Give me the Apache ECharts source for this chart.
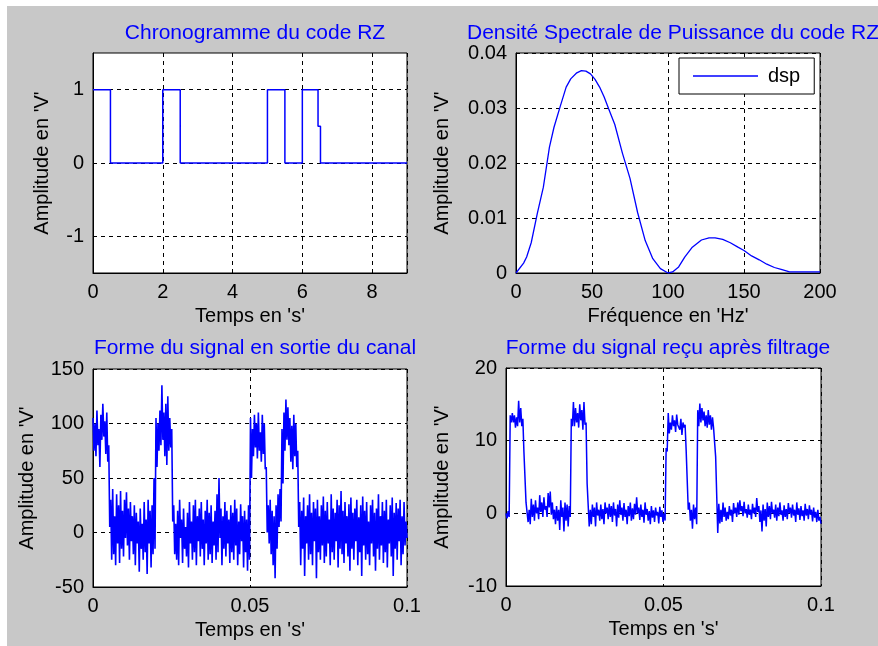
<!DOCTYPE html>
<html>
<head>
<meta charset="utf-8">
<title>Code RZ</title>
<script src="https://cdn.jsdelivr.net/npm/echarts@6/dist/echarts.min.js"></script>
<style>
  html, body { margin: 0; padding: 0; }
  #chart { width: 878px; height: 646px; }
</style>
</head>
<body>
<div id="chart"></div>
<script>
// chronogramme du code RZ (temps en s, niveau en V)
const rzTime = [0, 0.5, 0.5, 2, 2, 2.5, 2.5, 5, 5, 5.5, 5.5, 6, 6, 6.45, 6.45, 6.52, 6.52, 9];
const rzLevel = [1, 1, 0, 0, 1, 1, 0, 0, 1, 1, 0, 0, 1, 1, 0.5, 0.5, 0, 0];
const rzTicks = [-1, 0, 1];

// densite spectrale de puissance
const freq = [0, 5, 7, 10, 14, 18, 22, 25, 29, 33, 36, 40, 43, 46, 49, 52, 55, 58, 61, 65, 70, 75, 80, 85, 90, 95, 100,
  103, 107, 111, 116, 122, 127, 131, 136, 141, 146, 150, 155, 160, 165, 170, 175, 180, 190, 200];
const dsp = [0, 0.0018, 0.0029, 0.0055, 0.0108, 0.0156, 0.0229, 0.0265, 0.0302, 0.0338, 0.0353, 0.0364, 0.0368, 0.0367, 0.0362,
  0.0352, 0.0338, 0.032, 0.0298, 0.027, 0.0218, 0.0172, 0.011, 0.0059, 0.0026, 0.0008, 0,
  0.0002, 0.0011, 0.0029, 0.0047, 0.006, 0.0064, 0.0064, 0.0061, 0.0055, 0.0047, 0.0041, 0.0031, 0.0024, 0.0016, 0.001, 0.0006, 0.0002, 0.0002, 0.0002];

// signal en sortie du canal (echantillons)
const canalSortie = [
  105, 75, 100, 70, 112, 80, 95, 60, 108, 85, 118, 88, 102, 72, 110, 65, 80, 5,
  30, -25, 40, -20, 15, -30, 35, -10, 25, -28, 38, -15, 20, -22, 30, -5, 37, -12, 22, -25,
  28, -8, 15, -20, 25, -30, 18, -10, 10, -36, 22, -15, 8, -25, 28, -18, 12, -38, 30, -10,
  20, -32, 25, -20, 50, -15,
  105, 60, 100, 75, 112, 80, 135, 85, 110, 70, 118, 62, 125, 75, 105, 78, 95, 10,
  25, -20, 8, -25, 20, -30, 30, -5, 12, -28, 22, -15, 5, -22, 18, -32, 28, -10, 10, -25,
  25, -18, 30, -30, 15, -8, 22, -22, 28, -15, 12, -30, 20, -10, 30, -25, 18, -20, 25, -28,
  10, -12, 20, -25, 35, -18, 50, -5, 22, -30, 15, -15, 28, -22, 20, -10, 12, -28, 25, -18,
  18, -25, 30, -12, 22, -30, 10, -20, 26, -8, 15, -32, 20, -18, 12, -35, 25, -25,
  105, 50, 95, 70, 108, 78, 100, 68, 110, 75, 92, 65, 108, 72, 100, 58, 60, 0,
  25, -10, 30, -20, 20, -30, 15, -42, 25, -15, 35, 5, 40, 10,
  95, 45, 110, 75, 122, 85, 115, 80, 105, 65, 98, 58, 108, 70, 100, 60, 75, 5,
  28, -30, 20, -15, 32, -40, 15, -10, 25, -25, 35, -20, 18, -30, 28, -8, 22, -42, 30, -18,
  15, -25, 25, -12, 33, -28, 20, -22, 28, -10, 12, -30, 35, -18, 22, -25, 18, -8, 30, -32,
  25, -15, 38, -20, 20, -28, 28, -10, 15, -22, 26, -35, 32, -15, 18, -25, 22, -8, 30, -30,
  14, -18, 25, -40, 33, -12, 20, -25, 28, -20, 10, -30, 25, -10, 30, -22, 18, -35, 22, -15,
  35, -25, 15, -12, 28, -28, 20, -18, 30, -32, 12, -10, 25, -22, 32, -40, 18, -15, 27, -25,
  22, -8, 30, -30, 15, -20, 28, -12, 10, -5
];

// signal recu apres filtrage
const signalFiltre = [
  0, -0.7, 0.3, -0.5, 13.5, 12.5, 13.8, 12.5, 13.5, 11.8, 13.2, 12, 15.5, 12.5, 14.5, 12, 13, 8.5, 8.7, 1.5,
  1.5, -1.2, 0.5, -1.5, 2, -0.5, 1.2, -1, 1.8, 0, 0.8, -0.8, 2.5, 0.2, 1.5, -0.5, 2.2, 0.5, 1, -0.5,
  2.8, 0.8, 3, -0.2, 1.5, -0.8, 0.5, -1.5, 1, -1, 0.5, -2.3, 1.8, -0.5, 0.8, -2.5, 1.5, -1, 1.2, -1.8,
  1, -0.5, 13, 12, 15.3, 12, 14.5, 12.5, 13.8, 11.8, 15, 12.8, 14.2, 11.5, 15.3, 12.2, 12.5, 4.1, 4, -1.8,
  0.5, -1.5, 1.2, -0.5, 0.8, -1.8, 1.5, -0.3, 0.5, -1, 1.2, -0.8, 0.6, -1.5, 1.5, 0, 0.8, -0.8, 1.3, -0.5,
  1, -1.2, 1.5, -0.3, 0.6, -1.8, 1.2, -0.6, 1.8, -0.2, 0.8, -1, 1.4, -0.5, 0.5, -1.5, 1, -0.4, 1.5, -1,
  0.7, -0.8, 1.3, -0.2, 2.2, 0, 0.8, -0.9, 1.2, -0.5, 0.5, -1.3, 1.5, -0.2, 0.6, -1, 0.3, -1.5, 1, -0.6,
  0.4, -1.2, 0.8, -0.3, 0.2, -1.4, 0.9, -0.5, 0.4, -1.2, 0, -1, 9, 8.5, 13.8, 11, 12.5, 11.5, 13.5, 12,
  12.8, 11.2, 13.6, 12.2, 12.2, 11.5, 13, 10.8, 12.5, 11.8, 12.2, 8.7, 8.5, 0.5, 1.5, -1, 0.5, -2.1, 1.2, -0.8,
  0.8, -1.5, 14.2, 12, 15.1, 12.5, 14.5, 12.8, 14, 12, 13.5, 11.8, 14.2, 12.2, 13.5, 11.5, 13.2, 11.8, 12, 7.8,
  7.8, -2.7, 1.3, -1.4, 0.5, -1.2, 1.5, -0.5, 0.8, -1, 0.2, -0.8, 1, -0.3, 0.5, -1.2, 1.4, 0, 0.8, -0.5,
  1.5, -0.2, 1.8, 0.3, 1, -0.4, 1.6, 0, 0.6, -0.6, 1.2, -0.2, 0.5, -0.8, 1.3, 0, 0.8, -0.5, 2.1, 0.2,
  1, -1.2, 0.4, -2.5, 1.2, -1, 0.6, -1.8, 1.5, -0.5, 1, -0.8, 1.6, 0, 0.5, -0.6, 1.2, -1, 0.8, -0.4,
  1.5, -0.2, 0.4, -1, 1.1, -0.5, 0.6, -0.8, 1.4, 0, 0.8, -0.6, 1.2, -0.3, 0.5, -1.2, 1.5, -0.2, 0.7, -0.9,
  1, -0.4, 0.4, -1, 1.3, -0.3, 0.6, -0.8, 1.1, -0.2, 0.5, -1.1, 0.8, -0.6, 0.2, -1.2, 0.5, -1, -0.5, -1.4
];

const duree = 0.1;
const blue = '#0000ff';
const font = "'Liberation Sans', Arial, sans-serif";

const toPoints = (xs, ys) => xs.map((x, i) => [x, ys[i]]);
const sampled = (values) => {
  const dt = duree / (values.length - 1);
  return values.map((v, i) => [i * dt, v]);
};

const chart = echarts.init(document.getElementById('chart'), null, {renderer: 'canvas'});

const grids = [
  {left: 93, top: 53, width: 314, height: 220},
  {left: 516, top: 53, width: 304, height: 220},
  {left: 93, top: 369, width: 314, height: 218},
  {left: 506, top: 368, width: 315, height: 218}
];

const gridLine = {show: true, lineStyle: {color: '#000', type: [4, 4], width: 1}};
const labelStyle = {color: '#000', fontSize: 20, fontFamily: font};
const nameStyle = {color: '#000', fontSize: 20, fontFamily: font};

const xAxis = (gridIndex, min, max, interval, name, gap) => ({
  type: 'value', gridIndex, min, max, interval,
  name, nameLocation: 'middle', nameGap: gap, nameTextStyle: nameStyle,
  axisLine: {show: true, onZero: false, lineStyle: {color: '#000'}},
  axisTick: {show: false},
  axisLabel: Object.assign({margin: 9, showMaxLabel: max % interval === 0}, labelStyle),
  splitLine: gridLine
});
const yAxis = (gridIndex, min, max, interval, gap) => ({
  type: 'value', gridIndex, min, max, interval,
  name: "Amplitude en 'V'", nameLocation: 'middle', nameGap: gap, nameTextStyle: nameStyle,
  axisLine: {show: true, onZero: false, lineStyle: {color: '#000'}},
  axisTick: {show: false},
  axisLabel: Object.assign({margin: 9}, labelStyle),
  splitLine: gridLine
});

const rzY = yAxis(0, -1.5, 1.5, undefined, 41);
rzY.axisTick = {show: false, customValues: rzTicks};
rzY.axisLabel.customValues = rzTicks;

const titleAt = (text, x, y) => ({
  text, left: x, top: y, textAlign: 'center',
  textStyle: {color: blue, fontSize: 21, fontWeight: 'normal', fontFamily: font}
});

const option = {
  animation: false,
  backgroundColor: '#c8c8c8',
  graphic: [
    {type: 'rect', shape: {x: 0, y: 0, width: 878, height: 6}, style: {fill: '#fff'}},
    {type: 'rect', shape: {x: 0, y: 0, width: 7, height: 646}, style: {fill: '#fff'}}
  ],
  title: [
    titleAt('Chronogramme du code RZ', 250, 18),
    titleAt('Densité Spectrale de Puissance du code RZ', 668, 18),
    titleAt('Forme du signal en sortie du canal', 250, 333),
    titleAt('Forme du signal reçu après filtrage', 663, 333)
  ],
  legend: {
    data: ['dsp'],
    left: 679, top: 58,
    padding: [8, 14, 8, 14],
    icon: 'rect',
    itemWidth: 65, itemHeight: 1.5,
    backgroundColor: '#fff', borderColor: '#000', borderWidth: 1, borderRadius: 0,
    textStyle: {color: '#000', fontSize: 20, fontFamily: font, padding: [0, 0, 0, 5]}
  },
  grid: grids.map(g => Object.assign({show: true, backgroundColor: '#fff', borderColor: '#000', borderWidth: 1}, g)),
  xAxis: [
    xAxis(0, 0, 9, 2, "Temps en 's'", 33),
    xAxis(1, 0, 200, 50, "Fréquence en 'Hz'", 33),
    xAxis(2, 0, duree, 0.05, "Temps en 's'", 33),
    xAxis(3, 0, duree, 0.05, "Temps en 's'", 33)
  ],
  yAxis: [
    rzY,
    yAxis(1, 0, 0.04, 0.01, 64),
    yAxis(2, -50, 150, 50, 56),
    yAxis(3, -10, 20, 10, 54)
  ],
  series: [
    {
      name: 'rz', type: 'line', xAxisIndex: 0, yAxisIndex: 0,
      symbol: 'none', color: blue, lineStyle: {width: 1.5},
      data: toPoints(rzTime, rzLevel)
    },
    {
      name: 'dsp', type: 'line', xAxisIndex: 1, yAxisIndex: 1,
      symbol: 'none', color: blue, lineStyle: {width: 1.3},
      data: toPoints(freq, dsp)
    },
    {
      name: 'canal', type: 'line', xAxisIndex: 2, yAxisIndex: 2,
      symbol: 'none', color: blue, lineStyle: {width: 1.6},
      data: sampled(canalSortie)
    },
    {
      name: 'filtre', type: 'line', xAxisIndex: 3, yAxisIndex: 3,
      symbol: 'none', color: blue, lineStyle: {width: 1.5},
      data: sampled(signalFiltre)
    }
  ]
};

chart.setOption(option);
window.addEventListener('resize', () => {
  chart.resize();
});
</script>
</body>
</html>
